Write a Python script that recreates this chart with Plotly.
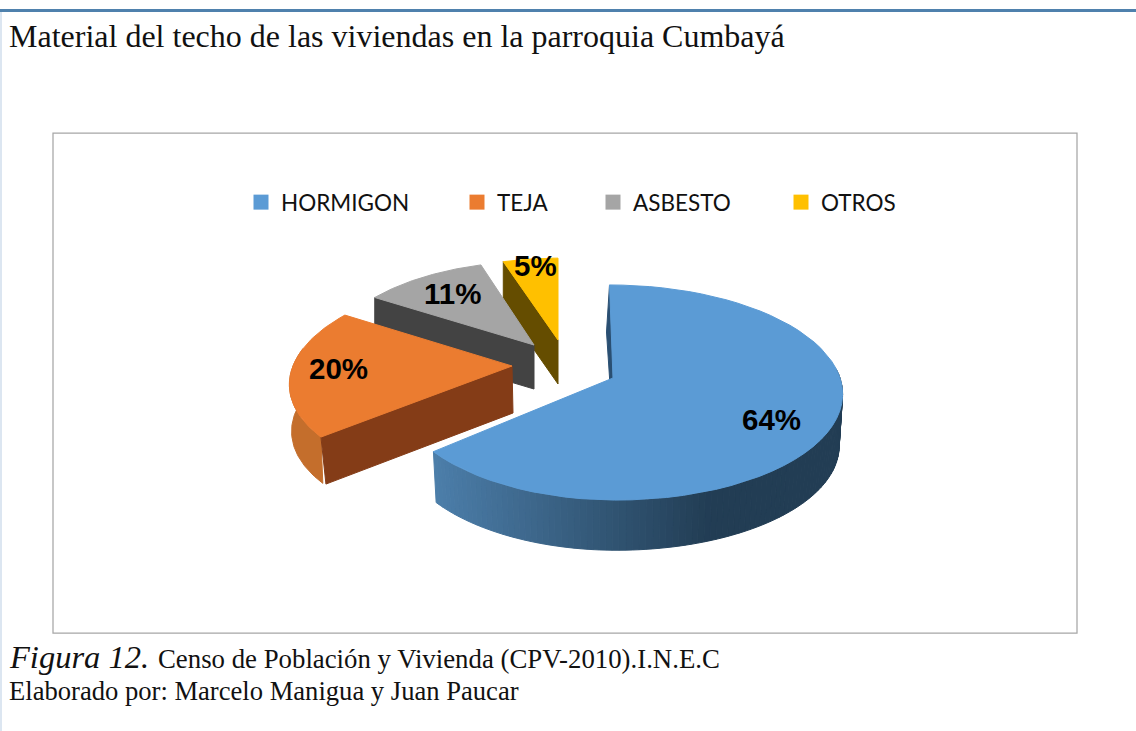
import math
import plotly.graph_objects as go

# ---------- data ----------
categories = ["HORMIGON", "TEJA", "ASBESTO", "OTROS"]
shares = [64, 20, 11, 5]

title_text = "Material del techo de las viviendas en la parroquia Cumbayá"
fig_label = "Figura 12."
source_text = "Censo de Población y Vivienda (CPV-2010).I.N.E.C"
author_text = "Elaborado por: Marcelo Manigua y Juan Paucar"

# ---------- style / layout constants ----------
W, H = 1136, 731
top_colors = ["#5b9bd5", "#eb7c30", "#a5a5a5", "#ffc000"]
face_colors = [None, "#843c17", "#434343", "#654d00"]
apex = [(613, 378), (512, 366), (534, 345), (558, 340)]
scale = [1.0, 0.965, 0.90, 0.88]
left_side = [0.95, 1.0, 1.0, 1.0]
shear = [-3.5, 10, 3, 0]
depth = [52, 47, 44, 44]
label_pos = [(771, 419), (338, 368), (452, 293), (535, 265)]
legend_x = [253, 469, 605, 793]
START_DEG = 0.0
BX, AY, P = 227.0, 105.6, 0.135
wall_shrink = [0.985, 0.99, 1.0, 1.0]


def rim(i, deg, bottom=False):
    t = math.radians(deg)
    u, v = math.sin(t), math.cos(t)
    k = wall_shrink[i] if bottom else 1.0
    d = 1 + P * v
    ax, ay = apex[i]
    side = left_side[i] if u < 0 else 1.0
    return (ax + scale[i] * k * BX * u * side / d + shear[i] * v,
            ay - scale[i] * k * AY * v / d + (depth[i] if bottom else 0))


def lerp_hex(a, b, f):
    f = max(0.0, min(1.0, f))
    ca = [int(a[j:j + 2], 16) for j in (1, 3, 5)]
    cb = [int(b[j:j + 2], 16) for j in (1, 3, 5)]
    return "#%02x%02x%02x" % tuple(round(x + (y - x) * f) for x, y in zip(ca, cb))


def poly(points, color):
    xs = [p[0] for p in points] + [points[0][0]]
    ys = [p[1] for p in points] + [points[0][1]]
    return go.Scatter(x=xs, y=ys, mode="lines", fill="toself", fillcolor=color,
                      line=dict(color=color, width=1), hoverinfo="skip",
                      showlegend=False)


# slice angles follow from the shares
total = sum(shares)
bounds = [START_DEG]
for s in shares:
    bounds.append(bounds[-1] + 360.0 * s / total)

fig = go.Figure()


def arc(i, a, b, bottom=False, n=60):
    return [rim(i, a + (b - a) * j / n, bottom) for j in range(n + 1)]


# back to front: OTROS, ASBESTO, TEJA, HORMIGON
for i in [3, 2, 1, 0]:
    a, b = bounds[i], bounds[i + 1]
    ax, ay = apex[i]
    if i == 0:
        # inner sliver behind the start edge
        r0 = rim(0, a)
        fig.add_trace(poly([r0, (r0[0] - 3, r0[1] + 47), (ax, ay + depth[0]), (ax, ay)], "#2a4f72"))
        # outer wall: horizontal gradient, dark to the right
        d0 = 85.0
        while d0 < b - 1e-6:
            d1 = min(d0 + 1.5, b)
            mx = rim(0, (d0 + d1) / 2)[0]
            col = lerp_hex("#4c7eaa", "#223d54", (mx - 433) / (710 - 433))
            fig.add_trace(poly(arc(0, d0, d1, n=2) + arc(0, d1, d0, True, n=2), col))
            d0 = d1
    else:
        r = rim(i, a)
        if i == 1:
            fig.add_trace(poly(arc(1, a, 280) + arc(1, 280, a, True), "#c46e2c"))
        fig.add_trace(poly([(ax, ay), r, (r[0] + (5 if i == 1 else 0), r[1] + depth[i]),
                            (ax + (1 if i == 1 else 0), ay + depth[i])], face_colors[i]))
    fig.add_trace(poly([(ax, ay)] + arc(i, a, b), top_colors[i]))

# legend keys (one native legend per entry so each can be placed freely)
legends = {}
for i, name in enumerate(categories):
    key = "legend" if i == 0 else f"legend{i + 1}"
    fig.add_trace(go.Scatter(x=[None], y=[None], mode="markers", name=name,
                             marker=dict(symbol="square", size=15, color=top_colors[i]),
                             showlegend=True, legend=key))
    legends[key] = dict(x=(legend_x[i] - 12) / W, xanchor="left", y=1 - 181 / H, yanchor="top",
                        bgcolor="rgba(0,0,0,0)", borderwidth=0,
                        font=dict(family="Lato", size=22.5, color="#111111"))

annotations = []
for i, s in enumerate(shares):
    annotations.append(dict(x=label_pos[i][0], y=label_pos[i][1], xref="x", yref="y",
                            text=f"{s}%", showarrow=False, xanchor="center", yanchor="middle",
                            font=dict(family="Liberation Sans", size=29.5, color="#000000", weight="bold")))

serif = "Liberation Serif"
for text, x, y, size, style in [
    (title_text, 7, 36, 32, "normal"),
    (fig_label, 7, 657, 32.5, "italic"),
    (source_text, 156, 659, 26.8, "normal"),
    (author_text, 7, 691, 26.6, "normal"),
]:
    annotations.append(dict(x=x, y=y, xref="x", yref="y", text=text, showarrow=False,
                            xanchor="left", yanchor="middle",
                            font=dict(family=serif, size=size, color="#111111", style=style)))

shapes = [
    dict(type="rect", x0=0, x1=2, y0=11, y1=H, fillcolor="#dce6f1", line_width=0, layer="below"),
    dict(type="rect", x0=0, x1=W, y0=9, y1=12, fillcolor="#4f81ad", line_width=0, layer="below"),
    dict(type="rect", x0=53, x1=1077, y0=133, y1=633, fillcolor="rgba(0,0,0,0)",
         line=dict(color="#a6a6a6", width=1.25), layer="below"),
]

fig.update_layout(
    width=W, height=H, margin=dict(l=0, r=0, t=0, b=0),
    paper_bgcolor="white", plot_bgcolor="white",
    xaxis=dict(range=[0, W], visible=False, fixedrange=True),
    yaxis=dict(range=[H, 0], visible=False, fixedrange=True),
    annotations=annotations, shapes=shapes, **legends,
)

fig.write_html("out.html", config={"displayModeBar": False},
               post_script="document.body.style.margin='0';")
